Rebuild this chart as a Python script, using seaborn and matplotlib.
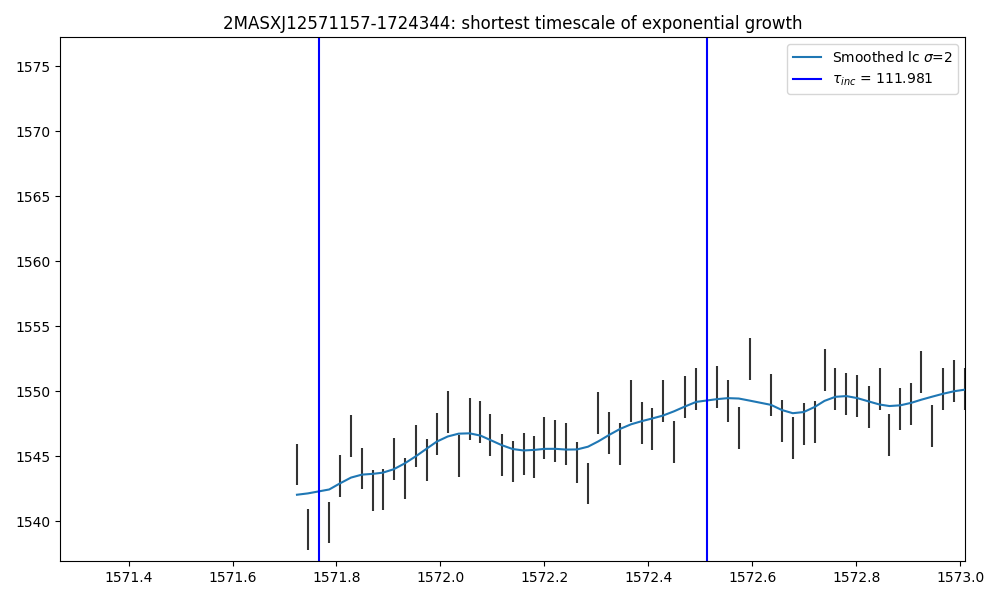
import numpy as np
import pandas as pd
import matplotlib
matplotlib.use('Agg')
import matplotlib.pyplot as plt
import seaborn as sns

# light curve
time = [1571.724, 1571.745, 1571.786, 1571.807, 1571.828, 1571.849, 1571.870, 1571.889,
        1571.910, 1571.931, 1571.953, 1571.974, 1571.993, 1572.014, 1572.035, 1572.056,
        1572.077, 1572.096, 1572.118, 1572.139, 1572.160, 1572.181, 1572.200, 1572.221,
        1572.242, 1572.263, 1572.284, 1572.304, 1572.325, 1572.346, 1572.367, 1572.388,
        1572.407, 1572.428, 1572.449, 1572.471, 1572.492, 1572.532, 1572.553, 1572.574,
        1572.595, 1572.636, 1572.657, 1572.678, 1572.699, 1572.720, 1572.739, 1572.760,
        1572.781, 1572.802, 1572.824, 1572.845, 1572.864, 1572.885, 1572.906, 1572.925,
        1572.946, 1572.967, 1572.989, 1573.010]
flux = [1544.37, 1539.39, 1539.92, 1543.52, 1546.59, 1544.06, 1542.37, 1542.45,
        1544.82, 1543.29, 1545.82, 1544.75, 1546.74, 1548.42, 1545.05, 1547.89,
        1547.66, 1546.66, 1545.13, 1544.60, 1545.21, 1544.98, 1546.43, 1546.20,
        1545.97, 1544.52, 1542.91, 1548.35, 1546.82, 1545.97, 1549.27, 1547.58,
        1547.12, 1549.27, 1546.13, 1549.57, 1550.19, 1550.34, 1549.27, 1547.20,
        1552.48, 1549.73, 1547.74, 1546.43, 1547.51, 1547.66, 1551.64, 1550.19,
        1549.80, 1549.65, 1548.81, 1550.19, 1546.66, 1548.65, 1549.04, 1551.49,
        1547.35, 1550.19, 1550.80, 1550.19]
flux_err = 1.6
t_start, t_end = 1571.766, 1572.513
tau_inc = 111.981
sigma = 2


def gauss_smooth(y, s):
    # gaussian filter, reflect mode like scipy.ndimage
    r = int(4 * s + 0.5)
    k = np.exp(-0.5 * (np.arange(-r, r + 1) / s) ** 2)
    k /= k.sum()
    yp = np.pad(np.asarray(y), r, mode='symmetric')
    return np.convolve(yp, k, mode='valid')


df = pd.DataFrame({'time': time, 'flux': flux})
df['smooth'] = gauss_smooth(df['flux'], sigma)

fig, ax = plt.subplots(figsize=(10, 6), dpi=100)
ax.errorbar(df['time'], df['flux'], yerr=flux_err, fmt='none', ecolor='#333333', elinewidth=1.5)
sns.lineplot(data=df, x='time', y='smooth', ax=ax, color='#1f77b4', linewidth=1.5,
             label=r'Smoothed lc $\sigma$=%d' % sigma)
ax.axvline(t_start, color='blue', linewidth=1.5, label=r'$\tau_{inc}$ = %.3f' % tau_inc)
ax.axvline(t_end, color='blue', linewidth=1.5)

ax.set_xlim(1571.268, 1573.0096)
ax.set_ylim(1536.94, 1577.22)
ax.set_xlabel('')
ax.set_ylabel('')
ax.set_title('2MASXJ12571157-1724344: shortest timescale of exponential growth')
ax.ticklabel_format(useOffset=False)
ax.legend(loc='upper right')
plt.tight_layout()
plt.savefig('out.png')
